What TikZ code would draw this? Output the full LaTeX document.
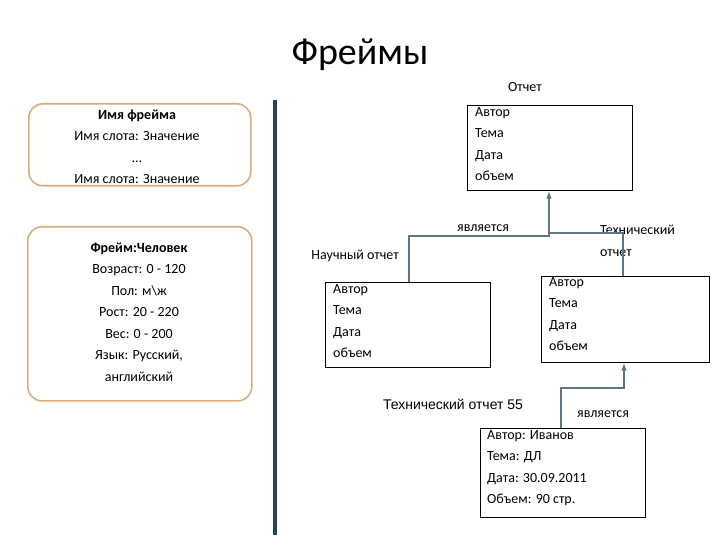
\documentclass[tikz,border=0pt]{standalone}
\usepackage{fontspec}
\setmainfont{Carlito}
\newfontfamily\arialfont{Liberation Sans}
\usetikzlibrary{positioning, arrows}
\definecolor{tanline}{HTML}{D6AE7E}
\definecolor{barblue}{HTML}{23405E}
\definecolor{linkgray}{HTML}{5E7786}

\begin{document}
\begin{tikzpicture}[x=1pt,y=-1pt, every node/.style={font=\fontsize{14}{21.5}\selectfont},
    framebox/.style={draw=tanline, line width=1.6pt, rounded corners=14pt, anchor=north west, inner sep=0},
    slotbox/.style={draw, line width=1.3pt, anchor=north west, inner sep=0},
    slottext/.style={align=left, anchor=north west, inner sep=0},
    link/.style={draw=linkgray, line width=1.5pt, -latex}]
    \useasboundingbox (0,0) rectangle (720,540);
    \node[font=\fontsize{38}{40}\selectfont] (title) at (360,55) {Фреймы};

    % left side
    \node[framebox, minimum width=222pt, minimum height=82pt] (gen) at (28,103) {};
    \node[align=center, inner sep=0] (gentext) at (137,147) {\textbf{Имя фрейма}\\Имя слота: Значение\\…\\Имя слота: Значение};
    \node[framebox, minimum width=224pt, minimum height=174pt] (man) at (27,226) {};
    \node[align=center, inner sep=0] (mantext) at (139,312) {\textbf{Фрейм:Человек}\\Возраст: 0 - 120\\Пол: м\textbackslash ж\\Рост: 20 - 220\\Вес: 0 - 200\\Язык: Русский,\\английский};
    \draw[barblue, line width=4pt] (275,100) -- (275,535);

    % report frames
    \node (rlabel) at (525,87) {Отчет};
    \node[slotbox, minimum width=165pt, minimum height=85pt] (report) at (467,105) {};
    \node[slottext] at (475,107) {Автор\\Тема\\Дата\\объем};
    \node[slotbox, minimum width=165pt, minimum height=85pt] (sci) at (325,282) {};
    \node[slottext] at (333,284) {Автор\\Тема\\Дата\\объем};
    \node[slotbox, minimum width=168pt, minimum height=86pt] (tech) at (541,276) {};
    \node[slottext] at (549,277) {Автор\\Тема\\Дата\\объем};
    \node[slotbox, minimum width=165pt, minimum height=89pt] (inst) at (480,428) {};
    \node[slottext] at (487,430) {Автор: Иванов\\Тема: ДЛ\\Дата: 30.09.2011\\Объем: 90 стр.};

    \node (isa1) at (483,228) {является};
    \node (scilabel) at (355,256) {Научный отчет};
    \node[slottext] (techlabel) at (600,225) {Технический\\отчет};
    \node[font=\arialfont\fontsize{14}{16}\selectfont] (instlabel) at (453,404) {Технический отчет 55};
    \node (isa2) at (603,414) {является};

    \coordinate (s) at (sci.north -| 409,0);
    \coordinate (t) at (tech.north -| 623,0);
    \coordinate (r) at (report.south -| 549,0);
    \coordinate (i) at (inst.north -| 561,0);
    \coordinate (u) at (tech.south -| 624,0);
    \coordinate (j) at (549,233);
    \draw[link] (s) |- (549,236) -- (r);
    \draw[link, -] (t) |- (j);
    \draw[link] (i) |- (624,388) -- (u);
\end{tikzpicture}
\end{document}
